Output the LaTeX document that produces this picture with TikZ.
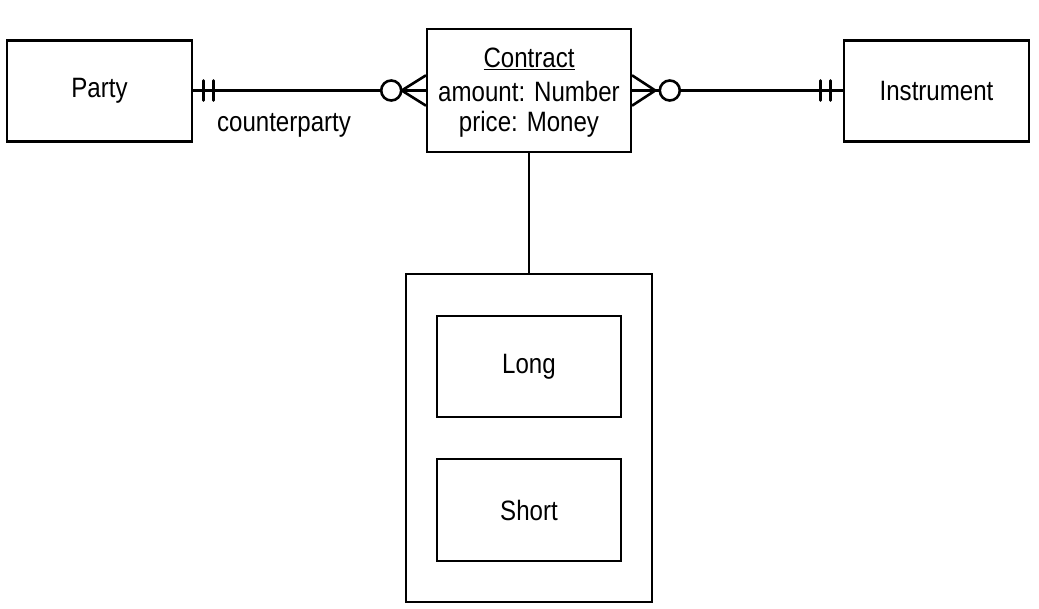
\documentclass[tikz,border=0pt]{standalone}
\usepackage{fontspec}
\setmainfont{Liberation Sans}[FakeStretch=0.86]
\usetikzlibrary{calc}
\begin{document}
\begin{tikzpicture}[x=1pt,y=-1pt,
  every node/.style={font=\fontsize{28}{30}\selectfont, inner sep=0pt},
  ent/.style={draw, line width=2.6pt, rectangle, minimum width=#1},
  conn/.style={line width=2.6pt},
  sym/.style={line width=2.6pt, line cap=round}]
\useasboundingbox (0,0) rectangle (1039,609);
\node[ent=185pt, minimum height=101pt] (party) at (99.5,91) {Party};
\node[ent=204pt, minimum height=123pt] (contract) at (529,90.5) {};
\node[ent=185pt, minimum height=101pt] (instr) at (936.5,91) {Instrument};
\node[ent=246pt, minimum height=328pt] (outer) at (529,438) {};
\node[ent=184pt, minimum height=101pt] (long) at (529,366.5) {Long};
\node[ent=184pt, minimum height=102pt] (short) at (529,510) {Short};
\node[anchor=base] (ctitle) at (529,68) {\underline{Contract}};
\node[anchor=base] (cattr1) at (529,101.5) {amount: Number};
\node[anchor=base] (cattr2) at (529,131.5) {price: Money};
\node[anchor=base] (rolelbl) at (284,132) {counterparty};
% connectors
\draw[conn] (party.east |- contract.west) -- (contract.west);
\draw[conn] (contract.east) -- (instr.west |- contract.east);
\draw[conn] (contract.south) -- (outer.north);
% left end: party one-and-only-one
\draw[sym] ($(contract.west -| party.east)+(10,-10)$) -- ++(0,20);
\draw[sym] ($(contract.west -| party.east)+(20,-10)$) -- ++(0,20);
% left end at contract: zero-or-many
\draw[sym] ($(contract.west)+(-24,0)$) -- ($(contract.west)+(0,-15)$);
\draw[sym] ($(contract.west)+(-24,0)$) -- ($(contract.west)+(0,15)$);
\draw[sym, fill=white] ($(contract.west)+(-34.5,0)$) circle[radius=10pt];
% right end at contract: zero-or-many
\draw[sym] ($(contract.east)+(23,0)$) -- ($(contract.east)+(0,-15)$);
\draw[sym] ($(contract.east)+(23,0)$) -- ($(contract.east)+(0,15)$);
\draw[sym, fill=white] ($(contract.east)+(37.5,0)$) circle[radius=10pt];
% right end: instrument one-and-only-one
\draw[sym] ($(contract.east -| instr.west)+(-22,-10)$) -- ++(0,20);
\draw[sym] ($(contract.east -| instr.west)+(-12,-10)$) -- ++(0,20);
\end{tikzpicture}
\end{document}
